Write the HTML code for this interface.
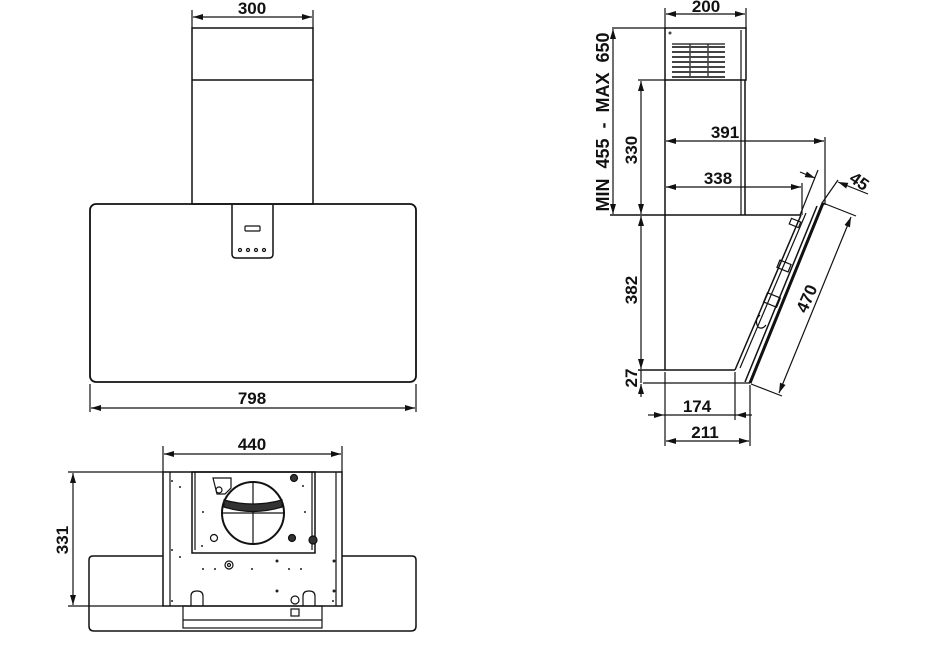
<!DOCTYPE html>
<html><head><meta charset="utf-8"><style>
html,body{margin:0;padding:0;background:#fff;}
svg{display:block;}
text{font-family:"Liberation Sans",sans-serif;font-weight:bold;font-size:17px;fill:#111;}
</style></head><body>
<svg width="932" height="654" viewBox="0 0 932 654" xmlns="http://www.w3.org/2000/svg">
<defs>
<marker id="a" markerWidth="10" markerHeight="6" refX="10" refY="3" orient="auto-start-reverse" markerUnits="userSpaceOnUse">
<path d="M0,0 L10,3 L0,6 z" fill="#111"/></marker>
</defs>
<g stroke="#111" fill="none" stroke-width="1.2">
<!-- FRONT VIEW -->
<line x1="192" y1="10" x2="192" y2="28"/><line x1="313" y1="10" x2="313" y2="28"/>
<line x1="193" y1="17" x2="312" y2="17" marker-start="url(#a)" marker-end="url(#a)"/>
<rect x="192" y="28" width="121" height="176" stroke-width="1.5"/>
<line x1="192" y1="80" x2="313" y2="80" stroke-width="1.5"/>
<rect x="90" y="204" width="326" height="178" rx="6" stroke-width="1.8"/>
<path d="M232,205 V254 q0,4 4,4 H269 q4,0 4,-4 V205" stroke-width="1.5"/>
<rect x="245" y="226" width="15" height="5" rx="1"/>
<circle cx="240" cy="250" r="1.5"/><circle cx="248" cy="250" r="1.5"/><circle cx="256" cy="250" r="1.5"/><circle cx="264" cy="250" r="1.5"/>
<line x1="90" y1="384" x2="90" y2="412"/><line x1="416" y1="384" x2="416" y2="412"/>
<line x1="91" y1="408" x2="415" y2="408" marker-start="url(#a)" marker-end="url(#a)"/>

<!-- BOTTOM VIEW -->
<line x1="163" y1="446" x2="163" y2="472"/><line x1="342" y1="446" x2="342" y2="472"/>
<line x1="164" y1="454" x2="341" y2="454" marker-start="url(#a)" marker-end="url(#a)"/>
<line x1="68" y1="472" x2="163" y2="472"/><line x1="68" y1="606" x2="163" y2="606"/>
<line x1="73" y1="473" x2="73" y2="605" marker-start="url(#a)" marker-end="url(#a)"/>
<path d="M163,556 H93 q-4,0 -4,4 V626 q0,5 5,5 H411 q5,0 5,-5 V560 q0,-4 -4,-4 H342" stroke-width="1.5"/>
<rect x="163" y="472" width="179" height="134" stroke-width="1.5"/>
<line x1="170" y1="472" x2="170" y2="606"/><line x1="336" y1="472" x2="336" y2="606"/>
<rect x="192" y="472" width="123" height="81" stroke-width="1.5"/>
<line x1="195" y1="472" x2="195" y2="550"/><line x1="312" y1="472" x2="312" y2="550"/>
<circle cx="253" cy="513" r="31" stroke-width="2"/>
<line x1="253" y1="482" x2="253" y2="544"/><line x1="222" y1="513" x2="284" y2="513"/>
<path d="M224,500 Q253,508 282,500 L282,507 Q253,516 224,507 z" fill="#333"/>
<rect x="183" y="606" width="139" height="22"/>
<line x1="183" y1="620" x2="322" y2="620"/>
<path d="M213,478 h18 v10 l-6,6 h-8 z"/>
<circle cx="219" cy="490" r="3"/>
<circle cx="229" cy="565" r="4"/><circle cx="229" cy="565" r="1.5"/>
<circle cx="294" cy="478" r="3.5" fill="#333"/><circle cx="214" cy="538" r="3.5"/><circle cx="292" cy="538" r="3.5" fill="#333"/><circle cx="313" cy="540" r="4" fill="#333"/>
<path d="M191,606 v-10 q0,-5 6,-5 q6,0 6,5 v10"/>
<path d="M303,606 v-10 q0,-5 6,-5 q6,0 6,5 v10"/>
<circle cx="295" cy="600" r="4"/><rect x="291" y="609" width="8" height="7"/>
</g>
<g fill="#222">
<circle cx="172" cy="481" r="1"/><circle cx="180" cy="487" r="1"/><circle cx="172" cy="550" r="1"/><circle cx="180" cy="557" r="1"/>
<circle cx="203" cy="512" r="1"/><circle cx="202" cy="546" r="1"/><circle cx="305" cy="512" r="1"/><circle cx="303" cy="486" r="1"/>
<circle cx="203" cy="569" r="1"/><circle cx="215" cy="569" r="1"/><circle cx="252" cy="569" r="1"/><circle cx="289" cy="569" r="1"/><circle cx="301" cy="569" r="1"/>
<circle cx="277" cy="561" r="1.5"/><circle cx="334" cy="561" r="1.5"/><circle cx="277" cy="591" r="1.5"/><circle cx="334" cy="591" r="1.5"/>
<circle cx="172" cy="601" r="1"/><circle cx="333" cy="601" r="1"/>
</g>

<g stroke="#111" fill="none" stroke-width="1.2">
<!-- SIDE VIEW -->
<line x1="665" y1="8" x2="665" y2="28"/><line x1="746" y1="8" x2="746" y2="28"/>
<line x1="666" y1="14" x2="745" y2="14" marker-start="url(#a)" marker-end="url(#a)"/>
<rect x="665" y="28" width="81" height="52" stroke-width="1.5"/>
<line x1="745" y1="80" x2="745" y2="215" stroke-width="1.5"/>
<line x1="741" y1="30" x2="741" y2="215"/>
<line x1="665" y1="80" x2="665" y2="370" stroke-width="1.5"/>
<line x1="612" y1="28" x2="665" y2="28"/>
<line x1="638" y1="80" x2="665" y2="80"/>
<line x1="610" y1="215" x2="801" y2="215" stroke-width="1.5"/>
<line x1="613" y1="29" x2="613" y2="214" marker-start="url(#a)" marker-end="url(#a)"/>
<line x1="641" y1="81" x2="641" y2="214" marker-start="url(#a)" marker-end="url(#a)"/>
<line x1="641" y1="216" x2="641" y2="369" marker-start="url(#a)" marker-end="url(#a)"/>
<line x1="641" y1="397" x2="641" y2="384" marker-end="url(#a)"/>
<line x1="641" y1="370" x2="641" y2="383"/>
<line x1="638" y1="370" x2="735" y2="370" stroke-width="1.5"/>
<line x1="643" y1="383" x2="750" y2="383"/>
<line x1="735" y1="370" x2="801" y2="215" stroke-width="1.5"/>
<line x1="806" y1="213" x2="740" y2="368"/>
<line x1="823" y1="203" x2="750" y2="383" stroke-width="3"/>
<line x1="817" y1="206" x2="745" y2="382" stroke-width="1.5"/>
<line x1="666" y1="141" x2="824" y2="141" marker-start="url(#a)" marker-end="url(#a)"/>
<line x1="825" y1="137" x2="825" y2="205"/>
<line x1="666" y1="187" x2="801" y2="187" marker-start="url(#a)" marker-end="url(#a)"/>
<line x1="802" y1="183" x2="802" y2="215"/>
<line x1="800" y1="215" x2="818" y2="170"/>
<line x1="822" y1="203" x2="838" y2="180"/>
<line x1="800" y1="172" x2="815" y2="178" marker-end="url(#a)"/>
<line x1="868" y1="194" x2="838" y2="182" marker-end="url(#a)"/>
<line x1="823" y1="203" x2="856" y2="216"/>
<line x1="751" y1="384" x2="782" y2="396"/>
<line x1="851" y1="217" x2="779" y2="393" marker-start="url(#a)" marker-end="url(#a)"/>
<line x1="665" y1="372" x2="665" y2="446"/>
<line x1="735" y1="372" x2="735" y2="420"/>
<line x1="750" y1="385" x2="750" y2="446"/>
<line x1="648" y1="415" x2="664" y2="415" marker-end="url(#a)"/>
<line x1="752" y1="415" x2="736" y2="415" marker-end="url(#a)"/>
<line x1="664" y1="415" x2="736" y2="415"/>
<line x1="666" y1="441" x2="749" y2="441" marker-start="url(#a)" marker-end="url(#a)"/>
<line x1="672" y1="44" x2="725" y2="44"/>
<line x1="690" y1="44" x2="690" y2="78"/><line x1="708" y1="44" x2="708" y2="78"/>
<rect x="790" y="220" width="10" height="6" transform="rotate(22 795 223)"/>
<rect x="778" y="262" width="12" height="8" transform="rotate(22 784 266)"/>
<rect x="765" y="295" width="14" height="10" transform="rotate(22 772 300)"/>
<path d="M760,315 q-6,5 -2,12 q4,3 8,-2"/>
</g>
<g fill="#444">
<rect x="672" y="46" width="53" height="2"/><rect x="672" y="51" width="53" height="2"/><rect x="672" y="56" width="53" height="2"/>
<rect x="672" y="61" width="53" height="2"/><rect x="672" y="66" width="53" height="2"/><rect x="672" y="71" width="53" height="2"/><rect x="672" y="76" width="53" height="2"/>
<circle cx="670" cy="33" r="1.5"/>
</g>

<!-- TEXT -->
<text x="252" y="14" text-anchor="middle">300</text>
<text x="252" y="404" text-anchor="middle">798</text>
<text x="252" y="450" text-anchor="middle">440</text>
<text transform="translate(68,540) rotate(-90)" text-anchor="middle">331</text>
<text x="706" y="12" text-anchor="middle">200</text>
<text transform="translate(609,122) rotate(-90)" text-anchor="middle" xml:space="preserve" style="font-size:18px">MIN  455  -  MAX  650</text>
<text transform="translate(637,150) rotate(-90)" text-anchor="middle">330</text>
<text transform="translate(637,290) rotate(-90)" text-anchor="middle">382</text>
<text transform="translate(637,378) rotate(-90)" text-anchor="middle">27</text>
<text x="725" y="138" text-anchor="middle">391</text>
<text x="718" y="184" text-anchor="middle">338</text>
<text transform="translate(856,186) rotate(35)" text-anchor="middle">45</text>
<text transform="translate(812,301) rotate(-66)" text-anchor="middle">470</text>
<text x="697" y="412" text-anchor="middle">174</text>
<text x="705" y="438" text-anchor="middle">211</text>
</svg>
</body></html>
